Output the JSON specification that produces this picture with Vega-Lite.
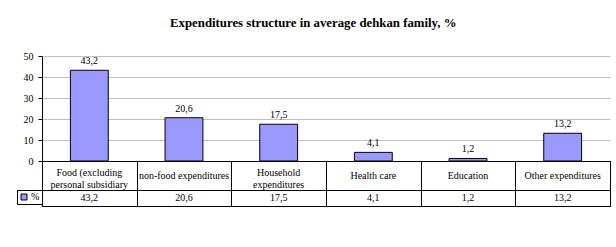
{
  "$schema": "https://vega.github.io/schema/vega-lite/v6.json",
  "padding": {"left": 16, "top": 17, "right": 7, "bottom": 5},
  "background": "white",
  "config": {
    "locale": {"number": {"decimal": ",", "thousands": " ", "grouping": [3], "currency": ["", ""]}},
    "font": "Liberation Serif",
    "view": {"stroke": null}
  },
  "title": {"text": "Expenditures structure in average dehkan family, %", "font": "Liberation Serif", "fontSize": 12.8, "fontWeight": "bold", "anchor": "middle", "offset": 21, "color": "black"},
  "data": {"values": [
    {"category": "Food (excluding\npersonal subsidiary", "value": 43.2, "series": "%"},
    {"category": "non-food expenditures", "value": 20.6, "series": "%"},
    {"category": "Household\nexpenditures", "value": 17.5, "series": "%"},
    {"category": "Health care", "value": 4.1, "series": "%"},
    {"category": "Education", "value": 1.2, "series": "%"},
    {"category": "Other expenditures", "value": 13.2, "series": "%"}
  ]},
  "spacing": 0,
  "bounds": "flush",
  "vconcat": [
    {
      "width": 568,
      "height": 105,
      "encoding": {
        "x": {"field": "category", "type": "nominal", "sort": ["Food (excluding\npersonal subsidiary", "non-food expenditures", "Household\nexpenditures", "Health care", "Education", "Other expenditures"], "scale": {"paddingInner": 0, "paddingOuter": 0}, "axis": null},
        "y": {"field": "value", "type": "quantitative", "scale": {"domain": [0, 50]},
          "axis": {"values": [0, 10, 20, 30, 40, 50], "title": null, "grid": true, "gridColor": "#c0c0c0", "domainColor": "black", "tickColor": "black", "tickSize": 4, "labelFontSize": 10, "labelColor": "black", "labelFont": "Liberation Serif", "labelPadding": 5, "labelOverlap": false}}
      },
      "layer": [
        {
          "mark": {"type": "bar", "fill": "#9999FF", "stroke": "black", "strokeWidth": 1, "width": {"band": 0.4}}
        },
        {
          "mark": {"type": "text", "baseline": "bottom", "dy": -4, "fontSize": 10, "font": "Liberation Serif", "color": "black"},
          "encoding": {
            "text": {"field": "value", "type": "quantitative", "format": ".1f"}
          }
        }
      ]
    },
    {
      "width": 568,
      "height": 29,
      "view": {"stroke": "black"},
      "encoding": {
        "x": {"field": "category", "type": "nominal", "sort": ["Food (excluding\npersonal subsidiary", "non-food expenditures", "Household\nexpenditures", "Health care", "Education", "Other expenditures"], "scale": {"paddingInner": 0, "paddingOuter": 0},
          "axis": {"grid": true, "gridColor": "black", "gridOpacity": 1, "tickBand": "extent", "labels": false, "ticks": false, "domain": false, "title": null}},
        "text": {"field": "category", "type": "nominal"}
      },
      "layer": [
        {
          "transform": [{"filter": "indexof(datum.category, '\\n') < 0"}],
          "mark": {"type": "text", "lineBreak": "\n", "fontSize": 10, "font": "Liberation Serif", "color": "black", "baseline": "middle"}
        },
        {
          "transform": [{"filter": "indexof(datum.category, '\\n') >= 0"}],
          "mark": {"type": "text", "lineBreak": "\n", "fontSize": 10, "font": "Liberation Serif", "color": "black", "baseline": "middle", "lineHeight": 12, "dy": -3}
        }
      ]
    },
    {
      "width": 568,
      "height": 16,
      "view": {"stroke": "black"},
      "encoding": {
        "x": {"field": "category", "type": "nominal", "sort": ["Food (excluding\npersonal subsidiary", "non-food expenditures", "Household\nexpenditures", "Health care", "Education", "Other expenditures"], "scale": {"paddingInner": 0, "paddingOuter": 0},
          "axis": {"grid": true, "gridColor": "black", "gridOpacity": 1, "tickBand": "extent", "labels": false, "ticks": false, "domain": false, "title": null}}
      },
      "layer": [
        {
          "mark": {"type": "text", "fontSize": 10, "font": "Liberation Serif", "color": "black"},
          "encoding": {"text": {"field": "value", "type": "quantitative", "format": ".1f"}}
        },
        {
          "mark": {"type": "point", "shape": "square", "filled": true, "opacity": 0},
          "encoding": {
            "color": {"field": "series", "type": "nominal", "scale": {"range": ["#9999FF"]},
              "legend": {"orient": "left", "title": null, "offset": 0, "padding": 2, "strokeColor": "black", "symbolType": "square", "symbolSize": 36, "symbolOpacity": 1, "symbolStrokeColor": "black", "symbolStrokeWidth": 1, "labelFontSize": 10, "labelFont": "Liberation Serif", "labelColor": "black", "labelOffset": 2,
                "labelExpr": "datum.label + '\u00a0\u00a0\u00a0'",
                "encode": {"symbols": {"update": {"opacity": {"value": 1}, "stroke": {"value": "black"}, "strokeWidth": {"value": 1}}}}}}
          }
        }
      ]
    }
  ],
  "resolve": {"legend": {"color": "independent"}}
}
